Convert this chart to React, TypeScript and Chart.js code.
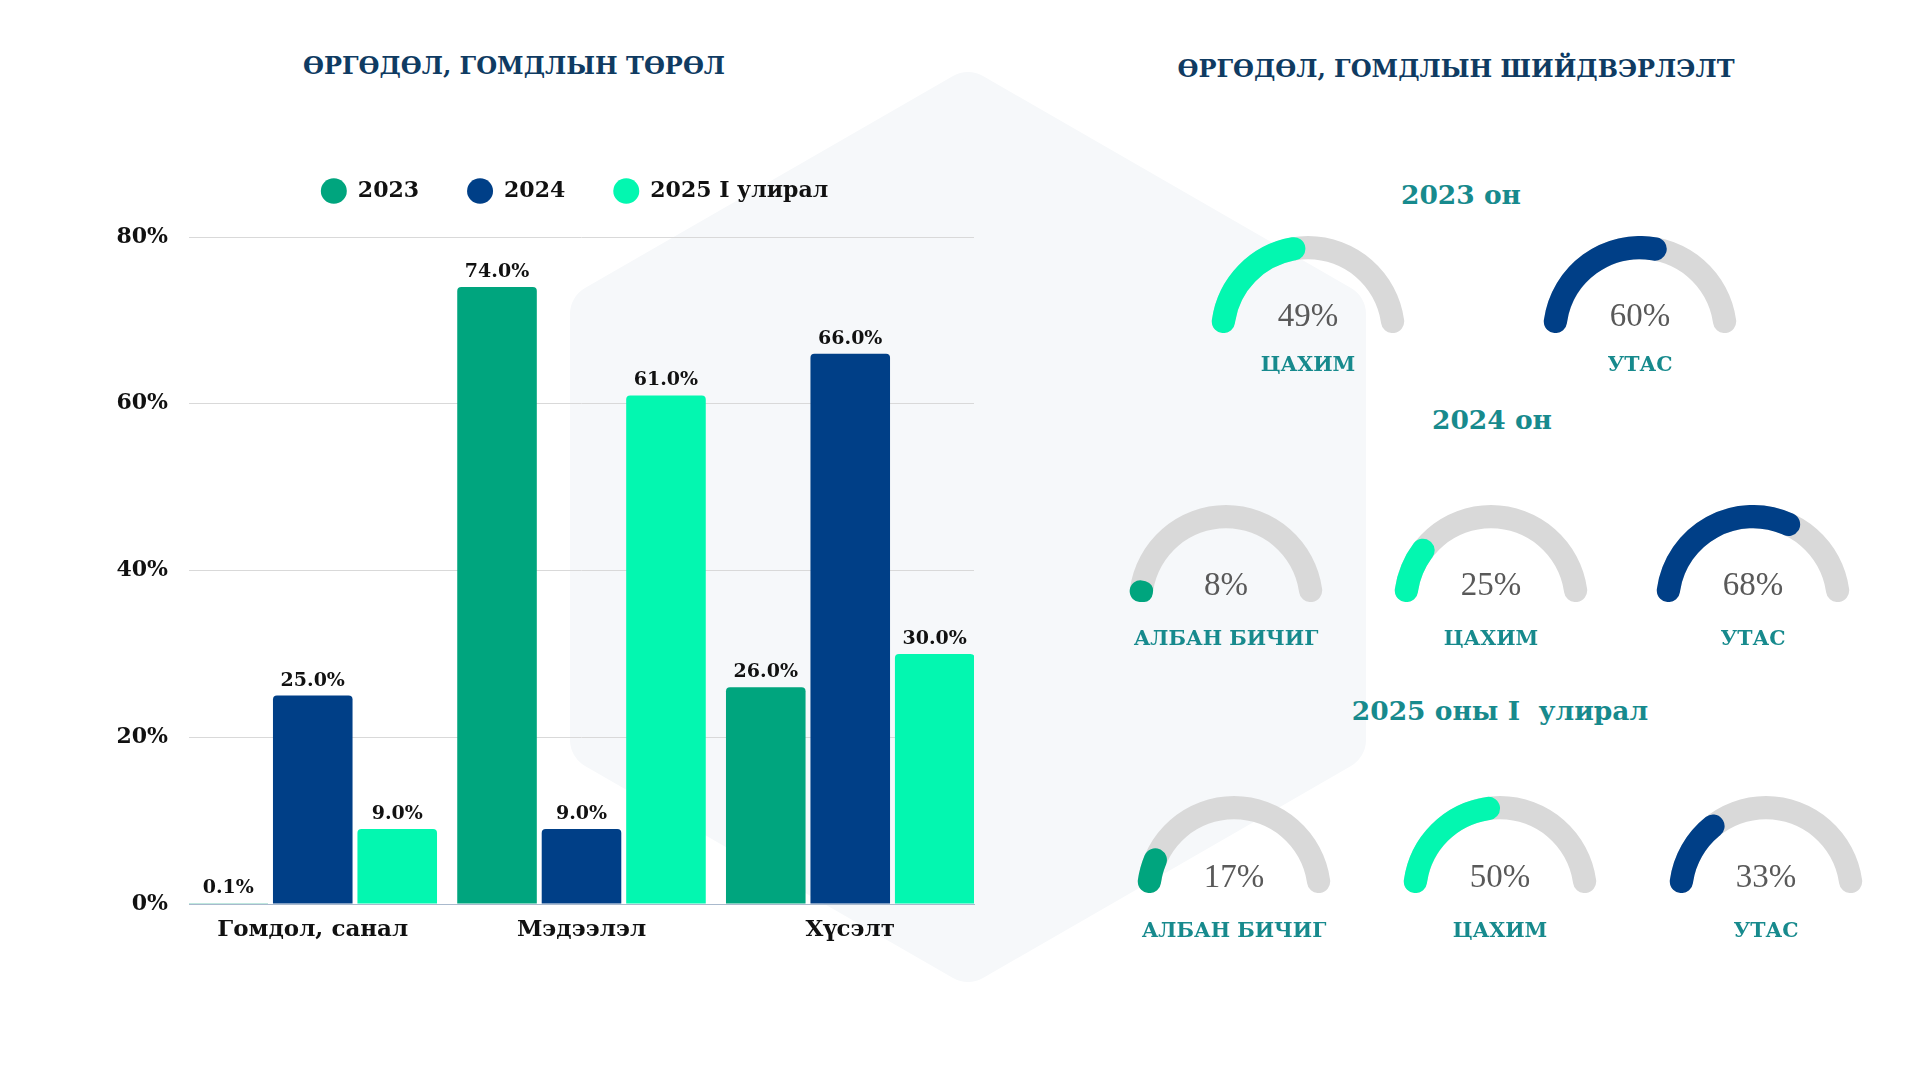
import { useEffect, useRef } from "react"
import { Chart, registerables } from "chart.js"

Chart.register(...registerables)

const FONT = "'DejaVu Serif', serif"
Chart.defaults.font.family = FONT

// bar chart data
const categories = ["Гомдол, санал", "Мэдээлэл", "Хүсэлт"]
const seriesNames = ["2023", "2024", "2025 I улирал"]
const values2023 = [0.1, 74, 26]
const values2024 = [25, 9, 66]
const values2025Q1 = [9, 61, 30]
const yTickValues = [0, 20, 40, 60, 80]

// gauge data
const gaugeTitles = ["2023 он", "2024 он", "2025 оны I  улирал"]
const channels2023 = ["ЦАХИМ", "УТАС"]
const shares2023 = [49, 60]
const channels2024 = ["АЛБАН БИЧИГ", "ЦАХИМ", "УТАС"]
const shares2024 = [8, 25, 68]
const channels2025 = ["АЛБАН БИЧИГ", "ЦАХИМ", "УТАС"]
const shares2025 = [17, 50, 33]

const TEAL = "#00a57e"
const NAVY = "#003f87"
const AQUA = "#03f7b0"
const TRACK = "#d9d9d9"
const TITLE_COLOR = "#0f3b62"
const SUB_COLOR = "#178a8d"

const channelColor: Record<string, string> = {
  "АЛБАН БИЧИГ": TEAL,
  "ЦАХИМ": AQUA,
  "УТАС": NAVY,
}

// layout of the gauge rows (pixels)
const gaugeRows = [
  { title: gaugeTitles[0], titleX: 1461, titleY: 195, channels: channels2023, shares: shares2023, xs: [1308, 1640], baseY: 333, pctY: 315, labelY: 364 },
  { title: gaugeTitles[1], titleX: 1492, titleY: 420, channels: channels2024, shares: shares2024, xs: [1226, 1491, 1753], baseY: 602, pctY: 584, labelY: 638 },
  { title: gaugeTitles[2], titleX: 1500, titleY: 711, channels: channels2025, shares: shares2025, xs: [1234, 1500, 1766], baseY: 893, pctY: 876, labelY: 930 },
]

const GAUGE_R = 97

function TypeChart() {
  const chartRef = useRef<HTMLCanvasElement>(null)
  const chartInstance = useRef<Chart | null>(null)

  useEffect(() => {
    if (!chartRef.current) return
    if (chartInstance.current) chartInstance.current.destroy()

    // value labels above each bar
    const valueLabels = {
      id: "valueLabels",
      afterDatasetsDraw(chart: any) {
        const ctx = chart.ctx
        ctx.save()
        ctx.font = `bold 19px ${FONT}`
        ctx.fillStyle = "#111"
        ctx.textAlign = "center"
        ctx.textBaseline = "middle"
        chart.data.datasets.forEach((ds: any, i: number) => {
          chart.getDatasetMeta(i).data.forEach((bar: any, j: number) => {
            ctx.fillText(Number(ds.data[j]).toFixed(1) + "%", bar.x, bar.y - 15)
          })
        })
        ctx.restore()
      },
    }

    // extra room under the legend, and legend centred a bit to the right
    const legendPlace = {
      id: "legendPlace",
      beforeInit(chart: any) {
        const legend = chart.legend
        if (!legend) return
        const fit = legend.fit
        legend.fit = function () {
          fit.call(legend)
          legend.height += 25
        }
      },
      afterLayout(chart: any) {
        if (chart.legend) chart.legend.left += 175
      },
    }

    const tickFont = { family: FONT, size: 22, weight: "bold" as const }

    chartInstance.current = new Chart(chartRef.current, {
      type: "bar",
      data: {
        labels: categories,
        datasets: [
          { label: seriesNames[0], data: values2023, backgroundColor: TEAL },
          { label: seriesNames[1], data: values2024, backgroundColor: NAVY },
          { label: seriesNames[2], data: values2025Q1, backgroundColor: AQUA },
        ],
      },
      options: {
        animation: false,
        responsive: true,
        maintainAspectRatio: false,
        events: [],
        layout: { padding: { left: 0, right: 184, top: 0, bottom: 0 } },
        datasets: {
          bar: { categoryPercentage: 0.943, barPercentage: 0.942, borderRadius: 4 },
        },
        plugins: {
          legend: {
            position: "top",
            labels: {
              usePointStyle: true,
              pointStyle: "circle",
              boxHeight: 18,
              pointStyleWidth: 26,
              padding: 48,
              color: "#111",
              font: tickFont,
            },
          },
          tooltip: { enabled: false },
        },
        scales: {
          x: {
            grid: { display: false },
            border: { color: "#a9b9cd", width: 1 },
            ticks: { color: "#111", padding: 4, font: { family: FONT, size: 23, weight: "bold" } },
            // groups sit a little wider apart than the plot's thirds
            afterBuildTicks: (scale: any) => {
              scale._valueRange = 2.921
              scale._startValue = -0.4605
            },
            afterFit: (scale: any) => {
              scale.height = 56
            },
          },
          y: {
            min: 0,
            max: 80,
            afterBuildTicks: (scale: any) => {
              scale.ticks = yTickValues.map((v) => ({ value: v }))
            },
            ticks: {
              color: "#111",
              padding: 21,
              font: tickFont,
              callback: (v: any) => v + "%",
            },
            grid: {
              drawTicks: false,
              color: (ctx: any) => (ctx.tick && ctx.tick.value === 0 ? "rgba(0,0,0,0)" : "#d9d9d9"),
            },
            border: { display: false },
            afterFit: (scale: any) => {
              scale.width = 189
            },
          },
        },
      },
      plugins: [valueLabels, legendPlace],
    })

    return () => {
      if (chartInstance.current) {
        chartInstance.current.destroy()
        chartInstance.current = null
      }
    }
  }, [])

  return (
    <div style={{ position: "absolute", left: 0, top: 132, width: 1158, height: 828 }}>
      <canvas ref={chartRef} />
    </div>
  )
}

// put the value arc and the grey track on the same ring
const sameRing = {
  id: "sameRing",
  afterDatasetsUpdate(chart: any) {
    const metas = chart.getSortedVisibleDatasetMetas()
    const outer = Math.max(...metas.map((m: any) => m.controller.outerRadius))
    const inner = Math.min(...metas.map((m: any) => m.controller.innerRadius))
    metas.forEach((m: any) =>
      m.data.forEach((arc: any) => {
        arc.outerRadius = outer
        arc.innerRadius = inner
      })
    )
  },
}

function Gauge({ value, color, cx, baseY }: { value: number; color: string; cx: number; baseY: number }) {
  const chartRef = useRef<HTMLCanvasElement>(null)
  const chartInstance = useRef<Chart | null>(null)

  useEffect(() => {
    if (!chartRef.current) return
    if (chartInstance.current) chartInstance.current.destroy()

    chartInstance.current = new Chart(chartRef.current, {
      type: "doughnut",
      data: {
        labels: ["value", "rest"],
        datasets: [
          {
            data: [value, 100 - value],
            backgroundColor: [color, "rgba(0,0,0,0)"],
            borderWidth: 0,
            hoverBorderWidth: 0,
            hoverOffset: 0,
            borderRadius: 12,
          },
          {
            data: [100],
            backgroundColor: [TRACK],
            borderWidth: 0,
            hoverBorderWidth: 0,
            hoverOffset: 0,
            borderRadius: 12,
          },
        ],
      },
      options: {
        animation: false,
        responsive: true,
        maintainAspectRatio: false,
        events: [],
        rotation: -90,
        circumference: 180,
        cutout: "76%",
        radius: GAUGE_R,
        plugins: { legend: { display: false }, tooltip: { enabled: false } },
      },
      plugins: [sameRing],
    })

    return () => {
      if (chartInstance.current) {
        chartInstance.current.destroy()
        chartInstance.current = null
      }
    }
  }, [value, color])

  return (
    <div
      style={{
        position: "absolute",
        left: cx - GAUGE_R,
        top: baseY - GAUGE_R,
        width: GAUGE_R * 2,
        height: GAUGE_R,
      }}
    >
      <canvas ref={chartRef} />
    </div>
  )
}

function CenteredText({ x, y, text, style }: { x: number; y: number; text: string; style: any }) {
  return (
    <div
      style={{
        position: "absolute",
        left: x,
        top: y,
        transform: "translate(-50%, -50%)",
        lineHeight: 1,
        whiteSpace: "pre",
        ...style,
      }}
    >
      {text}
    </div>
  )
}

const titleStyle = { fontFamily: FONT, fontWeight: "bold", fontSize: 24, color: TITLE_COLOR }
const rowTitleStyle = { fontFamily: FONT, fontWeight: "bold", fontSize: 26.5, color: SUB_COLOR }
const channelStyle = { fontFamily: FONT, fontWeight: "bold", fontSize: 20.5, color: SUB_COLOR }
const pctStyle = { fontFamily: "'Liberation Serif', serif", fontSize: 33, color: "#595959" }

export default function App() {
  return (
    <div
      style={{
        position: "fixed",
        left: 0,
        top: 0,
        width: 1920,
        height: 1080,
        background: "#ffffff",
        overflow: "hidden",
        fontFamily: FONT,
      }}
    >
      <svg width={1920} height={1080} style={{ position: "absolute", left: 0, top: 0 }}>
        <polygon
          points="968,102 1336,314 1336,740 968,952 600,740 600,314"
          fill="#f6f8fa"
          stroke="#f6f8fa"
          strokeWidth={60}
          strokeLinejoin="round"
        />
      </svg>

      <CenteredText x={514} y={66} text="ӨРГӨДӨЛ, ГОМДЛЫН ТӨРӨЛ" style={titleStyle} />
      <CenteredText x={1456} y={69} text="ӨРГӨДӨЛ, ГОМДЛЫН ШИЙДВЭРЛЭЛТ" style={titleStyle} />

      <TypeChart />

      {gaugeRows.map((row) => (
        <div key={row.title}>
          <CenteredText x={row.titleX} y={row.titleY} text={row.title} style={rowTitleStyle} />
          {row.channels.map((ch, i) => (
            <div key={ch}>
              <Gauge value={row.shares[i]} color={channelColor[ch]} cx={row.xs[i]} baseY={row.baseY} />
              <CenteredText x={row.xs[i]} y={row.pctY} text={row.shares[i] + "%"} style={pctStyle} />
              <CenteredText x={row.xs[i]} y={row.labelY} text={ch} style={channelStyle} />
            </div>
          ))}
        </div>
      ))}
    </div>
  )
}
